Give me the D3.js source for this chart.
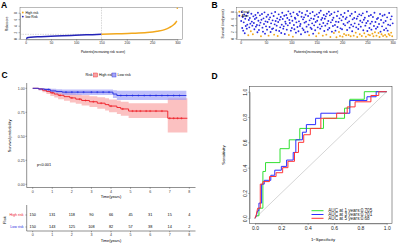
<!DOCTYPE html>
<html>
<head>
<meta charset="utf-8">
<script src="https://cdn.jsdelivr.net/npm/d3@7"></script>
<style>
  body { margin: 0; background: #fff; }
  text { font-family: "Liberation Sans", Arial, sans-serif; }
</style>
</head>
<body>
<script>
// ---------- data ----------
// A: risk score curve, read at some patient ranks
let riskRank = [1, 5, 10, 30, 60, 90, 120, 150, 180, 210, 240, 260, 275, 285, 292, 297, 299];
let riskScore = [0.05, 0.35, 0.45, 0.6, 0.8, 1.0, 1.18, 1.35, 1.5, 1.65, 1.9, 2.3, 2.8, 3.5, 4.2, 5.0, 5.5];
let riskOutlier = [300, 9.35];
let riskCut = 1.35;
let riskTicksX = [0, 50, 100, 150, 200, 250, 300];
let riskTicksY = [0, 2, 4, 6, 8];

// B: survival time of each patient (sorted by risk) and the dead ones
let survTime = [
  5.2, 7.9, 3.1, 6.4, 2.3, 4.8, 7.2, 1.5, 5.9, 3.7, 6.8, 2.9, 4.1, 7.6, 0.9, 5.5, 3.3, 6.1, 4.4, 2.1, 7.4, 5.0, 3.8, 1.2, 6.6, 4.6, 2.7, 5.8, 7.0, 3.5,
  6.2, 4.0, 1.8, 7.7, 5.3, 2.5, 3.9, 6.9, 4.7, 0.6, 5.6, 7.3, 3.2, 2.0, 6.0, 4.3, 7.8, 1.4, 5.1, 3.6, 6.5, 2.6, 4.9, 7.1, 0.8, 5.7, 3.4, 6.3, 1.9, 4.5,
  7.5, 2.8, 5.4, 3.0, 6.7, 1.1, 4.2, 7.9, 5.2, 2.4, 3.8, 6.0, 0.7, 4.9, 7.2, 2.2, 5.6, 3.3, 6.4, 1.6, 4.1, 7.7, 5.8, 2.9, 3.6, 6.8, 1.3, 5.0, 4.4, 7.0,
  2.6, 6.1, 3.9, 8.1, 1.0, 5.5, 4.6, 7.4, 2.3, 6.6, 3.1, 5.3, 0.5, 7.8, 4.0, 2.7, 6.2, 5.9, 1.7, 4.8, 7.3, 3.4, 6.9, 2.1, 5.1, 8.0, 3.7, 4.3, 1.2, 6.5,
  7.6, 3.0, 5.7, 2.5, 6.3, 4.7, 1.8, 7.1, 5.0, 3.5, 8.2, 2.0, 6.7, 4.1, 0.9, 5.4, 7.5, 3.2, 6.0, 2.8, 4.5, 7.9, 1.4, 5.8, 3.9, 6.8, 2.4, 4.9, 0.6, 7.2,
  5.3, 3.3, 6.4, 1.5, 7.7, 4.2, 2.9, 8.3, 5.6, 3.6, 6.1, 0.8, 4.6, 7.0, 2.2, 5.9, 3.8, 6.6, 1.1, 7.4, 4.4, 2.6, 5.2, 8.0, 3.1, 6.9, 0.4, 4.8, 7.3, 2.0,
  5.5, 3.7, 6.2, 1.6, 7.8, 4.0, 2.3, 5.0, 0.3, 6.7, 3.4, 8.1, 4.9, 1.9, 6.0, 0.7, 3.0, 7.1, 5.4, 2.7, 0.5, 6.5, 4.3, 1.3, 7.6, 3.9, 5.8, 0.9, 6.3, 2.5,
  4.7, 8.2, 1.0, 5.1, 3.2, 6.8, 0.6, 4.1, 7.4, 2.1, 5.7, 3.6, 0.8, 6.1, 4.5, 7.9, 1.7, 3.3, 5.9, 0.4, 6.6, 2.8, 4.2, 7.2, 1.2, 5.3, 3.5, 6.9, 0.7, 4.8,
  7.5, 2.4, 5.6, 1.5, 6.2, 3.8, 0.5, 4.6, 8.0, 2.2, 5.2, 1.1, 6.7, 3.1, 0.9, 4.4, 7.0, 2.6, 5.0, 1.4, 6.4, 0.6, 3.7, 7.7, 1.8, 4.9, 2.9, 0.8, 5.8, 3.4,
  6.1, 1.6, 4.3, 0.4, 7.3, 2.0, 5.5, 1.2, 3.6, 6.8, 0.7, 4.7, 2.5, 7.1, 1.0, 5.2, 3.0, 0.5, 6.3, 2.3, 4.1, 1.3, 7.6, 0.9, 3.9, 5.7, 1.7, 6.6, 0.6, 4.5
];
let deadRank = [15, 20, 24, 40, 55, 66, 73, 95, 103, 135, 149, 154, 162, 169, 177, 184, 189, 194, 196, 201, 204, 208,
  213, 217, 223, 227, 230, 235, 239, 244, 247, 252, 255, 260, 262, 265, 268, 272, 274, 278, 281, 285, 288, 292, 294, 297, 299];

// C: Kaplan-Meier
let kmTicksX = [0, 1, 2, 3, 4, 5, 6, 7, 8];
let kmTicksY = [0, 0.25, 0.5, 0.75, 1];
let highTime = [0, 0.3, 0.5, 0.7, 0.9, 1.1, 1.3, 1.6, 1.9, 2.2, 2.5, 2.9, 3.3, 3.7, 3.9, 4.3, 4.5, 4.9, 6.9];
let highSurv = [1, 0.993, 0.98, 0.967, 0.953, 0.94, 0.927, 0.913, 0.9, 0.887, 0.873, 0.86, 0.845, 0.83, 0.815, 0.8, 0.785, 0.763, 0.688];
let highLower = [1, 0.98, 0.958, 0.94, 0.92, 0.903, 0.887, 0.87, 0.853, 0.838, 0.82, 0.805, 0.786, 0.768, 0.75, 0.733, 0.715, 0.69, 0.54];
let highUpper = [1, 1, 1, 0.995, 0.987, 0.978, 0.968, 0.958, 0.948, 0.938, 0.928, 0.918, 0.907, 0.896, 0.884, 0.872, 0.86, 0.845, 0.896];
let highEnd = 7.9;
let highCensor = [1.0, 1.4, 2.0, 2.4, 2.7, 3.1, 3.5, 4.0, 4.6, 5.1, 5.3, 5.5, 5.8, 6.0, 6.3, 6.6, 7.0, 7.2, 7.4, 7.6];
let lowTime = [0, 0.3, 0.6, 0.9, 1.2, 1.5, 4.1, 4.3];
let lowSurv = [1, 0.993, 0.987, 0.973, 0.967, 0.96, 0.94, 0.925];
let lowLower = [1, 0.98, 0.97, 0.953, 0.943, 0.93, 0.9, 0.878];
let lowUpper = [1, 1, 1, 0.995, 0.99, 0.988, 0.98, 0.975];
let lowEnd = 7.85;
let lowCensor = [0.8, 1.7, 2.0, 2.3, 2.6, 3.0, 3.3, 3.6, 3.9, 4.5, 4.8, 5.1, 5.4, 5.7, 6.0, 6.3, 6.6, 6.9, 7.2, 7.5];
let atRiskHigh = [150, 131, 118, 90, 66, 45, 31, 15, 4];
let atRiskLow = [150, 143, 125, 108, 82, 57, 38, 14, 2];

// D: time-dependent ROC
let rocTicks = [0, 0.2, 0.4, 0.6, 0.8, 1.0];
let roc1 = [[0,0],[0.01,0.02],[0.03,0.02],[0.03,0.08],[0.06,0.08],[0.06,0.37],[0.08,0.37],[0.08,0.44],[0.19,0.44],[0.19,0.55],[0.26,0.55],[0.26,0.62],[0.34,0.62],[0.34,0.71],[0.52,0.71],[0.52,0.79],[0.68,0.79],[0.68,0.87],[0.72,0.87],[0.72,0.94],[0.83,0.94],[0.83,1],[1,1]];
let roc3 = [[0,0],[0.01,0.02],[0.02,0.06],[0.03,0.06],[0.03,0.12],[0.05,0.12],[0.05,0.27],[0.07,0.27],[0.07,0.3],[0.12,0.3],[0.12,0.34],[0.15,0.34],[0.15,0.38],[0.2,0.38],[0.2,0.41],[0.24,0.41],[0.24,0.46],[0.29,0.46],[0.29,0.52],[0.31,0.52],[0.31,0.62],[0.36,0.62],[0.36,0.68],[0.39,0.68],[0.39,0.74],[0.46,0.74],[0.46,0.79],[0.5,0.79],[0.5,0.83],[0.72,0.83],[0.72,0.93],[0.85,0.93],[0.85,0.96],[0.92,0.96],[0.92,1],[1,1]];
let roc5 = [[0,0],[0.01,0.03],[0.02,0.08],[0.04,0.08],[0.04,0.27],[0.06,0.27],[0.06,0.29],[0.11,0.29],[0.11,0.33],[0.16,0.33],[0.16,0.36],[0.21,0.36],[0.21,0.4],[0.25,0.4],[0.25,0.45],[0.3,0.45],[0.3,0.52],[0.33,0.52],[0.33,0.6],[0.37,0.6],[0.37,0.66],[0.42,0.66],[0.42,0.71],[0.5,0.71],[0.5,0.79],[0.62,0.79],[0.62,0.83],[0.7,0.83],[0.7,0.88],[0.76,0.88],[0.76,0.92],[0.88,0.92],[0.88,0.97],[0.94,0.97],[0.94,1],[1,1]];
let rocLabels = ["AUC at 1 years:0.705", "AUC at 3 years:0.701", "AUC at 5 years:0.68"];

// ---------- colours ----------
let orange = "#f2a81d";
let navy = "#2323b8";
let blueDot = "#2a2ae0";
let kmRed = "#ee1c25";
let kmBlue = "#1f2be0";

let svg = d3.select("body").append("svg")
  .attr("width", 400)
  .attr("height", 245);

function panelLetter(t, x, y) {
  svg.append("text").text(t).attr("x", x).attr("y", y)
    .attr("font-size", 8.5).attr("font-weight", "bold");
}

// base-R style axes (ticks outside, small text)
function baseAxisBottom(g, scale, ticks, y, fs, fmt) {
  let ax = d3.axisBottom(scale).tickValues(ticks).tickSize(1.5).tickSizeOuter(0).tickPadding(1).tickFormat(fmt || d3.format("d"));
  let a = g.append("g").attr("transform", "translate(0," + y + ")").call(ax);
  a.selectAll("text").attr("font-size", fs).attr("fill", "#222");
  a.selectAll("line,path").attr("stroke", "#444").attr("stroke-width", 0.4);
  return a;
}
function baseAxisLeft(g, scale, ticks, x, fs, fmt) {
  let ax = d3.axisLeft(scale).tickValues(ticks).tickSize(1.5).tickSizeOuter(0).tickPadding(1).tickFormat(fmt || d3.format("d"));
  let a = g.append("g").attr("transform", "translate(" + x + ",0)").call(ax);
  a.selectAll("line,path").attr("stroke", "#444").attr("stroke-width", 0.4);
  // labels parallel to the axis, like R's las = 0
  a.selectAll("text").attr("font-size", fs).attr("fill", "#222")
    .attr("text-anchor", "middle")
    .attr("transform", "translate(" + (-2.3 - fs / 2) + ",0) rotate(-90)")
    .attr("x", 0).attr("y", 0).attr("dy", "0.35em");
  return a;
}

// ================= A =================
panelLetter("A", 1, 7.5);
let gA = svg.append("g");
let xA = d3.scaleLinear().domain([0, 300]).range([25.7, 177.3]);
let yA = d3.scaleLinear().domain([0, 8]).range([38.7, 12.7]);
gA.append("rect").attr("x", 20).attr("y", 7.3).attr("width", 162.5).attr("height", 32)
  .attr("fill", "none").attr("stroke", "#555").attr("stroke-width", 0.4);
baseAxisBottom(gA, xA, riskTicksX, 39.3, 3.2);
baseAxisLeft(gA, yA, riskTicksY, 20, 3.2);
gA.append("line").attr("x1", xA(150)).attr("x2", xA(150)).attr("y1", 7.3).attr("y2", 39.3)
  .attr("stroke", "#999").attr("stroke-width", 0.4).attr("stroke-dasharray", "1.5,1");
gA.append("line").attr("x1", 20).attr("x2", xA(150)).attr("y1", yA(riskCut)).attr("y2", yA(riskCut))
  .attr("stroke", "#999").attr("stroke-width", 0.4).attr("stroke-dasharray", "1.5,1");

let riskPts = riskRank.map((r, i) => [r, riskScore[i]]);
let lineA = d3.line().x(d => xA(d[0])).y(d => yA(d[1])).curve(d3.curveMonotoneX);
gA.append("path").datum(riskPts.filter(d => d[0] <= 150))
  .attr("d", lineA).attr("fill", "none").attr("stroke", navy).attr("stroke-width", 1.5);
gA.append("path").datum(riskPts.filter(d => d[0] >= 150))
  .attr("d", lineA).attr("fill", "none").attr("stroke", orange).attr("stroke-width", 1.5);
gA.append("circle").attr("cx", xA(riskOutlier[0])).attr("cy", yA(riskOutlier[1])).attr("r", 0.8).attr("fill", orange);

gA.append("circle").attr("cx", 22.8).attr("cy", 12.5).attr("r", 0.9).attr("fill", orange);
gA.append("text").text("High risk").attr("x", 25.5).attr("y", 13.6).attr("font-size", 3.3);
gA.append("circle").attr("cx", 22.8).attr("cy", 16.6).attr("r", 0.9).attr("fill", navy);
gA.append("text").text("low Risk").attr("x", 25.5).attr("y", 17.7).attr("font-size", 3.3);
gA.append("text").text("Patients(increasing risk score)").attr("x", 103).attr("y", 53)
  .attr("font-size", 3.3).attr("text-anchor", "middle");
gA.append("text").text("Riskscore").attr("font-size", 3.3).attr("text-anchor", "middle")
  .attr("transform", "translate(8,24) rotate(-90)");

// ================= B =================
panelLetter("B", 211.5, 8);
let gB = svg.append("g");
let xB = d3.scaleLinear().domain([0, 300]).range([240.7, 392.7]);
let yB = d3.scaleLinear().domain([0, 8]).range([38.3, 11.7]);
gB.append("rect").attr("x", 236.7).attr("y", 7.3).attr("width", 160.3).attr("height", 32.3)
  .attr("fill", "none").attr("stroke", "#555").attr("stroke-width", 0.4);
baseAxisBottom(gB, xB, riskTicksX, 39.6, 3.2);
baseAxisLeft(gB, yB, riskTicksY, 236.7, 3.2);
let deadSet = new Set(deadRank);
let pts = survTime.map((t, i) => ({ rank: i + 1, t: t, dead: deadSet.has(i + 1) }));
gB.selectAll(".pt").data(pts).enter().append("circle")
  .attr("class", "pt")
  .attr("cx", d => xB(d.rank)).attr("cy", d => yB(d.t)).attr("r", 0.95)
  .attr("fill", d => d.dead ? orange : blueDot);
gB.append("circle").attr("cx", 239.3).attr("cy", 11.7).attr("r", 1).attr("fill", orange);
gB.append("text").text("Dead").attr("x", 241.5).attr("y", 12.8).attr("font-size", 3.3);
gB.append("circle").attr("cx", 239.3).attr("cy", 15.7).attr("r", 1).attr("fill", blueDot);
gB.append("text").text("Alive").attr("x", 241.5).attr("y", 16.8).attr("font-size", 3.3);
gB.append("text").text("Patients(increasing risk score)").attr("x", 316).attr("y", 53)
  .attr("font-size", 3.3).attr("text-anchor", "middle");
gB.append("text").text("Survival time(years)").attr("font-size", 3.3).attr("text-anchor", "middle")
  .attr("transform", "translate(224,24) rotate(-90)");

// ================= C =================
panelLetter("C", 1.5, 78);
let gC = svg.append("g");
let xC = d3.scaleLinear().domain([0, 8]).range([32.7, 189.3]);
let yC = d3.scaleLinear().domain([0, 1]).range([184.3, 88.3]);

// legend
gC.append("text").text("Risk").attr("x", 85.5).attr("y", 76.3).attr("font-size", 3.6);
gC.append("rect").attr("x", 93.5).attr("y", 73).attr("width", 4).attr("height", 4)
  .attr("fill", "#f7a3a3").attr("stroke", kmRed).attr("stroke-width", 0.4);
gC.append("text").text("High risk").attr("x", 99).attr("y", 76.3).attr("font-size", 3.6);
gC.append("rect").attr("x", 112).attr("y", 73).attr("width", 4).attr("height", 4)
  .attr("fill", "#a6a6f5").attr("stroke", kmBlue).attr("stroke-width", 0.4);
gC.append("text").text("Low risk").attr("x", 117.5).attr("y", 76.3).attr("font-size", 3.6);

function stepArea(times, lo, up, end) {
  let out = [];
  times.forEach((t, i) => {
    let t2 = i < times.length - 1 ? times[i + 1] : end;
    out.push({ t: t, lo: lo[i], up: up[i] });
    out.push({ t: t2, lo: lo[i], up: up[i] });
  });
  return out;
}
function stepLine(times, s, end) {
  let out = [];
  times.forEach((t, i) => {
    let t2 = i < times.length - 1 ? times[i + 1] : end;
    out.push([t, s[i]]);
    out.push([t2, s[i]]);
  });
  return out;
}
function stepAt(times, s, x) {
  let v = s[0];
  times.forEach((t, i) => { if (t <= x) v = s[i]; });
  return v;
}
let areaC = d3.area().x(d => xC(d.t)).y0(d => yC(d.lo)).y1(d => yC(d.up));
let lineC = d3.line().x(d => xC(d[0])).y(d => yC(d[1]));

let kmGroups = [
  { time: highTime, s: highSurv, lo: highLower, up: highUpper, end: highEnd, cens: highCensor, col: kmRed, fill: "#f9a0a0" },
  { time: lowTime, s: lowSurv, lo: lowLower, up: lowUpper, end: lowEnd, cens: lowCensor, col: kmBlue, fill: "#9b9bf7" }
];
kmGroups.forEach(k => {
  gC.append("path").datum(stepArea(k.time, k.lo, k.up, k.end)).attr("d", areaC)
    .attr("fill", k.fill).attr("opacity", 0.65);
});
kmGroups.forEach(k => {
  gC.append("path").datum(stepLine(k.time, k.s, k.end)).attr("d", lineC)
    .attr("fill", "none").attr("stroke", k.col).attr("stroke-width", 0.9);
  gC.selectAll(null).data(k.cens).enter().append("path")
    .attr("d", c => {
      let x = xC(c), y = yC(stepAt(k.time, k.s, c));
      return "M" + x + "," + (y - 1.1) + "V" + (y + 1.1) + "M" + (x - 1.1) + "," + y + "H" + (x + 1.1);
    })
    .attr("stroke", k.col).attr("stroke-width", 0.5);
});

// axes (ggplot style: line + ticks)
function ggAxes(g, xs, ys, x0, x1, y0, y1, xt, yt, yfmt) {
  g.append("line").attr("x1", x0).attr("x2", x0).attr("y1", y0).attr("y2", y1).attr("stroke", "#222").attr("stroke-width", 0.5);
  g.append("line").attr("x1", x0).attr("x2", x1).attr("y1", y1).attr("y2", y1).attr("stroke", "#222").attr("stroke-width", 0.5);
  g.selectAll(null).data(xt).enter().append("line")
    .attr("x1", d => xs(d)).attr("x2", d => xs(d)).attr("y1", y1).attr("y2", y1 + 1.3)
    .attr("stroke", "#222").attr("stroke-width", 0.4);
  g.selectAll(null).data(xt).enter().append("text").text(d => d)
    .attr("x", d => xs(d)).attr("y", y1 + 5.2).attr("font-size", 3.6).attr("text-anchor", "middle").attr("fill", "#333");
  if (ys) {
    g.selectAll(null).data(yt).enter().append("line")
      .attr("x1", x0 - 1.3).attr("x2", x0).attr("y1", d => ys(d)).attr("y2", d => ys(d))
      .attr("stroke", "#222").attr("stroke-width", 0.4);
    g.selectAll(null).data(yt).enter().append("text").text(yfmt)
      .attr("x", x0 - 2).attr("y", d => ys(d) + 1.3).attr("font-size", 3.6).attr("text-anchor", "end").attr("fill", "#333");
  }
}
ggAxes(gC, xC, yC, 26.7, 195.5, 83, 187.5, kmTicksX, kmTicksY, d3.format(".2f"));
gC.append("text").text("Time(years)").attr("x", 111).attr("y", 198.3).attr("font-size", 3.9).attr("text-anchor", "middle");
gC.append("text").text("Survival probability").attr("font-size", 3.9).attr("text-anchor", "middle")
  .attr("transform", "translate(11,136) rotate(-90)");
gC.append("text").text("p<0.001").attr("x", 37).attr("y", 166).attr("font-size", 3.9);

// risk table
let tabRows = [
  { name: "High risk", vals: atRiskHigh, col: kmRed, y: 215 },
  { name: "Low risk", vals: atRiskLow, col: kmBlue, y: 227 }
];
tabRows.forEach(r => {
  gC.selectAll(null).data(r.vals).enter().append("text").text(d => d)
    .attr("x", (d, i) => xC(kmTicksX[i])).attr("y", r.y + 1.3)
    .attr("font-size", 3.8).attr("text-anchor", "middle");
  gC.append("text").text(r.name).attr("x", 23.5).attr("y", r.y + 1.3)
    .attr("font-size", 3.6).attr("text-anchor", "end").attr("fill", r.col);
  gC.append("line").attr("x1", 25.4).attr("x2", 26.7).attr("y1", r.y).attr("y2", r.y)
    .attr("stroke", "#222").attr("stroke-width", 0.4);
});
ggAxes(gC, xC, null, 26.7, 195.5, 205, 231, kmTicksX, []);
gC.append("text").text("Time(years)").attr("x", 111).attr("y", 241.5).attr("font-size", 3.9).attr("text-anchor", "middle");
gC.append("text").text("Risk").attr("font-size", 3.9).attr("text-anchor", "middle")
  .attr("transform", "translate(6,220) rotate(-90)");

// ================= D =================
panelLetter("D", 211.5, 79);
let gD = svg.append("g");
let xD = d3.scaleLinear().domain([0, 1]).range([255, 386.7]);
let yD = d3.scaleLinear().domain([0, 1]).range([218.3, 91.7]);
gD.append("rect").attr("x", 249.7).attr("y", 86.6).attr("width", 142.3).attr("height", 136.8)
  .attr("fill", "none").attr("stroke", "#333").attr("stroke-width", 0.5);
let fmt1 = d3.format(".1f");
let axD = baseAxisBottom(gD, xD, rocTicks, 223.4, 5, fmt1);
axD.selectAll("text").attr("dy", "0.9em");
baseAxisLeft(gD, yD, rocTicks, 249.7, 5, fmt1);
gD.append("line").attr("x1", xD(0)).attr("y1", yD(0)).attr("x2", xD(1)).attr("y2", yD(1))
  .attr("stroke", "#aaa").attr("stroke-width", 0.5);
let lineD = d3.line().x(d => xD(d[0])).y(d => yD(d[1]));
let rocSets = [
  { pts: roc1, col: "#33e033" },
  { pts: roc3, col: "#2e2eff" },
  { pts: roc5, col: "#ff3535" }
];
rocSets.forEach(r => {
  gD.append("path").datum(r.pts).attr("d", lineD).attr("fill", "none")
    .attr("stroke", r.col).attr("stroke-width", 1);
});
rocSets.forEach((r, i) => {
  let y = 210.7 + i * 3.8;
  gD.append("line").attr("x1", 311.5).attr("x2", 323.5).attr("y1", y).attr("y2", y)
    .attr("stroke", r.col).attr("stroke-width", 1);
  gD.append("text").text(rocLabels[i]).attr("x", 328.3).attr("y", y + 1.6)
    .attr("font-size", 4.6).attr("fill", "#222");
});
gD.append("text").text("1\u2212Specificity").attr("x", 323).attr("y", 240.5)
  .attr("font-size", 4.3).attr("text-anchor", "middle");
gD.append("text").text("Sensitivity").attr("font-size", 4.3).attr("text-anchor", "middle")
  .attr("transform", "translate(225,155) rotate(-90)");
</script>
</body>
</html>
